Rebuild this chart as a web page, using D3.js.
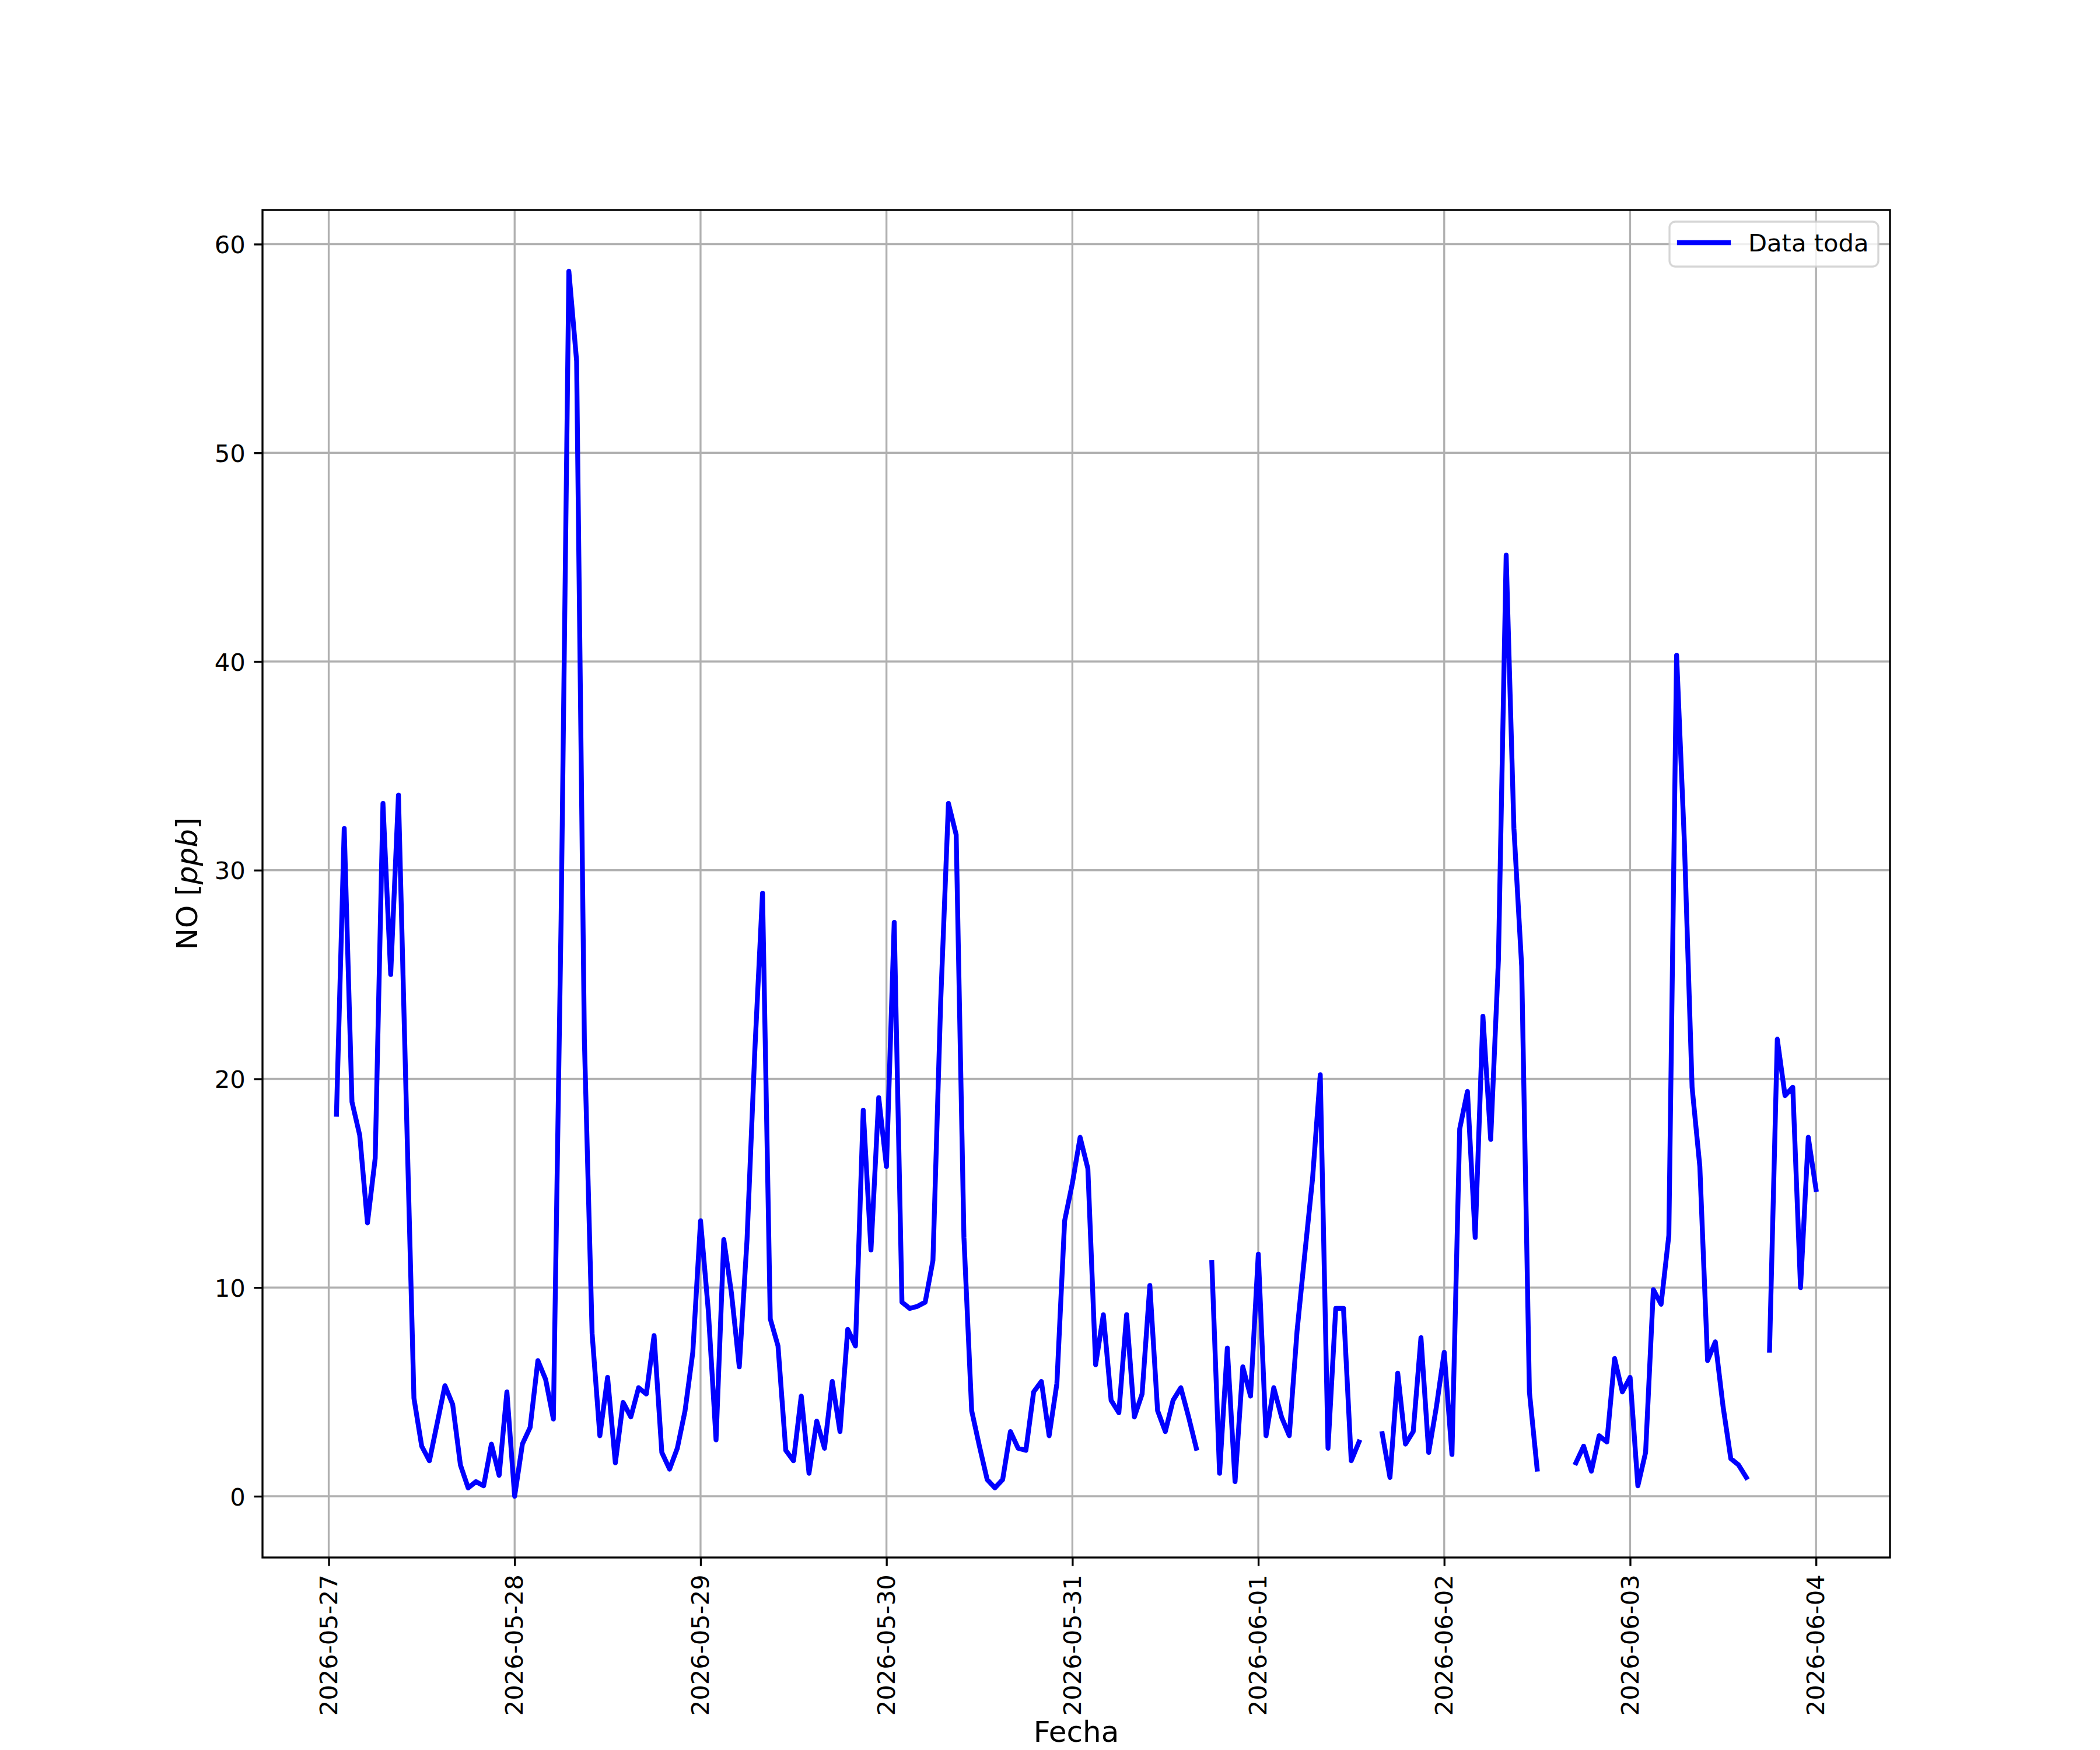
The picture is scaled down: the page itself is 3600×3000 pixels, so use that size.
<!DOCTYPE html>
<html>
<head>
<meta charset="utf-8">
<script src="https://cdn.jsdelivr.net/npm/d3@7"></script>
<style>
  body { margin: 0; background: #fff; }
  text { font-family: "DejaVu Sans", sans-serif; }
</style>
</head>
<body>
<script>
// hourly NO readings, each row = 24 h starting at 01:00 of the day named
var firstHour = "2026-05-27T01:00:00Z";
var may27 = [18.3, 32.0, 18.9, 17.3, 13.1, 16.2, 33.2, 25.0, 33.6, 19.0, 4.7, 2.4, 1.7, 3.5, 5.3, 4.4, 1.5, 0.4, 0.7, 0.5, 2.5, 1.0, 5.0, 0.0];
var may28 = [2.5, 3.3, 6.5, 5.6, 3.7, 27.7, 58.7, 54.4, 21.9, 7.8, 2.9, 5.7, 1.6, 4.5, 3.8, 5.2, 4.9, 7.7, 2.1, 1.3, 2.3, 4.1, 6.9, 13.2];
var may29 = [8.9, 2.7, 12.3, 9.7, 6.2, 12.3, 21.3, 28.9, 8.5, 7.2, 2.2, 1.7, 4.8, 1.1, 3.6, 2.3, 5.5, 3.1, 8.0, 7.2, 18.5, 11.8, 19.1, 15.8];
var may30 = [27.5, 9.3, 9.0, 9.1, 9.3, 11.3, 23.7, 33.2, 31.7, 12.4, 4.1, 2.4, 0.8, 0.4, 0.8, 3.1, 2.3, 2.2, 5.0, 5.5, 2.9, 5.4, 13.2, 15.0];
var may31 = [17.2, 15.7, 6.3, 8.7, 4.6, 4.0, 8.7, 3.8, 4.9, 10.1, 4.1, 3.1, 4.6, 5.2, 3.8, 2.3, null, 11.2, 1.1, 7.1, 0.7, 6.2, 4.8, 11.6];
var jun01 = [2.9, 5.2, 3.8, 2.9, 7.9, 11.6, 15.2, 20.2, 2.3, 9.0, 9.0, 1.7, 2.6, null, null, 3.0, 0.9, 5.9, 2.5, 3.1, 7.6, 2.1, 4.3, 6.9];
var jun02 = [2.0, 17.6, 19.4, 12.4, 23.0, 17.1, 25.7, 45.1, 32.0, 25.4, 5.0, 1.3, null, null, null, null, 1.6, 2.4, 1.2, 2.9, 2.6, 6.6, 5.0, 5.7];
var jun03 = [0.5, 2.1, 9.9, 9.2, 12.5, 40.3, 31.4, 19.6, 15.8, 6.5, 7.4, 4.3, 1.8, 1.5, 0.9, null, null, 7.0, 21.9, 19.2, 19.6, 10.0, 17.2, 14.7];

var dayLabels = ["2026-05-27", "2026-05-28", "2026-05-29", "2026-05-30", "2026-05-31",
                 "2026-06-01", "2026-06-02", "2026-06-03", "2026-06-04"];
var yTicks = [0, 10, 20, 30, 40, 50, 60];
var seriesName = "Data toda";

var values = [].concat(may27, may28, may29, may30, may31, jun01, jun02, jun03);
var t0 = new Date(firstHour).getTime();
var data = values.map(function (v, i) {
    return { t: new Date(t0 + i * 3600e3), v: v };
});

var W = 3600, H = 3000;
var margin = { top: 360, right: 360, bottom: 330, left: 450 },
    width = W - margin.left - margin.right,
    height = H - margin.top - margin.bottom;

var pt = 300 / 72;
var lw = 0.8 * pt;

var svg = d3.select("body")
    .append("svg")
    .attr("width", W)
    .attr("height", H);

svg.append("rect").attr("width", W).attr("height", H).attr("fill", "#fff");

var g = svg.append("g")
    .attr("transform", "translate(" + margin.left + "," + margin.top + ")");

// matplotlib-like 5% margins
var tExt = d3.extent(data, function (d) { return d.t; });
var tPad = (tExt[1] - tExt[0]) * 0.05;
var x = d3.scaleUtc()
    .domain([new Date(+tExt[0] - tPad), new Date(+tExt[1] + tPad)])
    .range([0, width]);

var vals = data.filter(function (d) { return d.v != null; });
var vMin = d3.min(vals, function (d) { return d.v; }),
    vMax = d3.max(vals, function (d) { return d.v; });
var vPad = (vMax - vMin) * 0.05;
var y = d3.scaleLinear()
    .domain([vMin - vPad, vMax + vPad])
    .range([height, 0]);

var dayDates = dayLabels.map(function (s) { return new Date(s + "T00:00:00Z"); });

// grid
g.append("g")
    .selectAll("line")
    .data(dayDates)
    .enter().append("line")
    .attr("x1", function (d) { return x(d); })
    .attr("x2", function (d) { return x(d); })
    .attr("y1", 0).attr("y2", height)
    .attr("stroke", "#b0b0b0").attr("stroke-width", lw);

g.append("g")
    .selectAll("line")
    .data(yTicks)
    .enter().append("line")
    .attr("x1", 0).attr("x2", width)
    .attr("y1", function (d) { return y(d); })
    .attr("y2", function (d) { return y(d); })
    .attr("stroke", "#b0b0b0").attr("stroke-width", lw);

// series
var line = d3.line()
    .defined(function (d) { return d.v != null; })
    .x(function (d) { return x(d.t); })
    .y(function (d) { return y(d.v); });

g.append("path")
    .datum(data)
    .attr("d", line)
    .attr("fill", "none")
    .attr("stroke", "#0000ff")
    .attr("stroke-width", 2 * pt)
    .attr("stroke-linejoin", "round")
    .attr("stroke-linecap", "square");

// axes
var tickLen = 3.5 * pt, tickPad = 3.5 * pt;

var xAxis = g.append("g")
    .attr("transform", "translate(0," + height + ")")
    .call(d3.axisBottom(x)
        .tickValues(dayDates)
        .tickFormat(d3.utcFormat("%Y-%m-%d"))
        .tickSize(tickLen)
        .tickSizeOuter(0));
xAxis.select(".domain").remove();
xAxis.selectAll(".tick line").attr("stroke", "#000").attr("stroke-width", lw);
xAxis.selectAll(".tick text")
    .attr("x", null).attr("y", null).attr("dy", null)
    .attr("text-anchor", "end")
    .attr("transform", "translate(" + (0.33 * 41.67) + "," + (tickLen + tickPad) + ") rotate(-90)")
    .attr("font-size", 41.67)
    .attr("font-family", "DejaVu Sans")
    .attr("fill", "#000");

var yAxis = g.append("g")
    .call(d3.axisLeft(y)
        .tickValues(yTicks)
        .tickSize(tickLen)
        .tickPadding(tickPad)
        .tickSizeOuter(0));
yAxis.select(".domain").remove();
yAxis.selectAll(".tick line").attr("stroke", "#000").attr("stroke-width", lw);
yAxis.selectAll(".tick text")
    .attr("dy", "0.36em")
    .attr("font-size", 41.67)
    .attr("font-family", "DejaVu Sans")
    .attr("fill", "#000");

// frame
g.append("rect")
    .attr("width", width).attr("height", height)
    .attr("fill", "none")
    .attr("stroke", "#000")
    .attr("stroke-width", lw);

// labels
svg.append("text")
    .attr("x", margin.left + width / 2)
    .attr("y", 2986)
    .attr("text-anchor", "middle")
    .attr("font-size", 50)
    .text("Fecha");

var yl = svg.append("text")
    .attr("transform", "translate(338," + (margin.top + height / 2) + ") rotate(-90)")
    .attr("text-anchor", "middle")
    .attr("font-size", 50);
yl.append("tspan").text("NO [");
yl.append("tspan").attr("font-style", "italic").text("ppb");
yl.append("tspan").text("]");

// legend
var leg = svg.append("g");
leg.append("rect")
    .attr("x", 2862).attr("y", 380)
    .attr("width", 358).attr("height", 77)
    .attr("rx", 10).attr("ry", 10)
    .attr("fill", "#fff").attr("fill-opacity", 0.8)
    .attr("stroke", "#cccccc").attr("stroke-opacity", 0.8)
    .attr("stroke-width", lw);
leg.append("line")
    .attr("x1", 2879).attr("x2", 2963)
    .attr("y1", 416).attr("y2", 416)
    .attr("stroke", "#0000ff")
    .attr("stroke-width", 2 * pt)
    .attr("stroke-linecap", "square");
leg.append("text")
    .attr("x", 2997).attr("y", 431)
    .attr("font-size", 41.67)
    .text(seriesName);
</script>
</body>
</html>
